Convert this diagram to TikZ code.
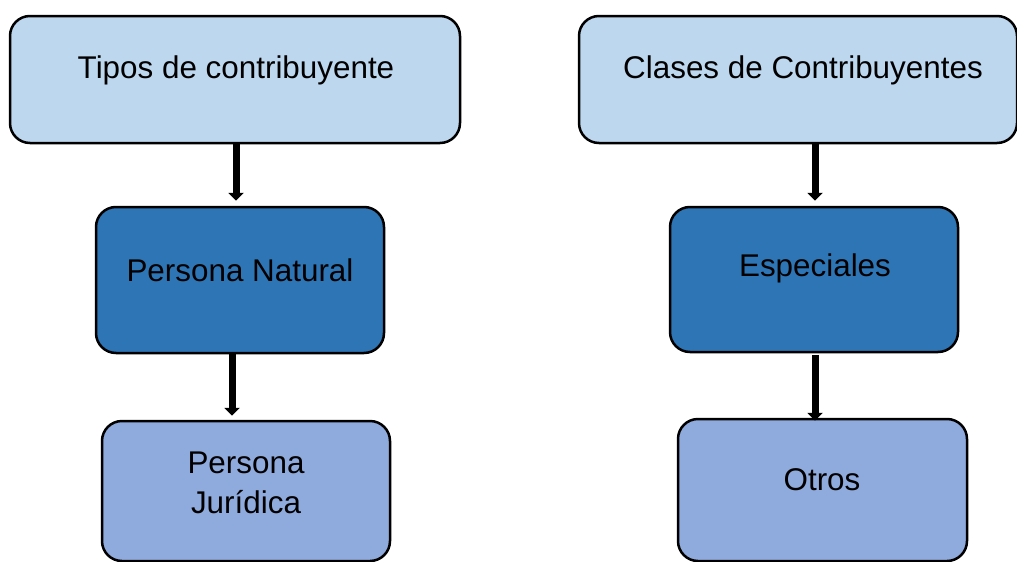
\documentclass[tikz,border=0pt]{standalone}
\usepackage{fontspec}
\setmainfont{Liberation Sans}
\usetikzlibrary{arrows.meta}
\definecolor{lightbox}{HTML}{BDD7EE}
\definecolor{darkbox}{HTML}{2E75B6}
\definecolor{midbox}{HTML}{8FAADC}
\begin{document}
\begin{tikzpicture}[x=1pt,y=-1pt,
  box/.style={draw=black, line width=2.5pt, rounded corners=20pt, inner sep=0pt},
  lbl/.style={font=\fontsize{31.4}{40}\selectfont, align=center, inner sep=0pt, text=black},
  arr/.style={line width=7pt, -{Triangle[width=15pt,length=8pt]}}]
\useasboundingbox (0,0) rectangle (1017,562);
% left column
\node[box, fill=lightbox, minimum width=450pt, minimum height=127pt] (b1) at (235,79.5) {};
\node[box, fill=darkbox, minimum width=288pt, minimum height=146pt] (b2) at (240,280) {};
\node[box, fill=midbox, minimum width=288pt, minimum height=140pt] (b3) at (246,491) {};
% right column
\node[box, fill=lightbox, minimum width=438pt, minimum height=127pt] (b4) at (798,79.5) {};
\node[box, fill=darkbox, minimum width=288pt, minimum height=145pt] (b5) at (814,279.5) {};
\node[box, fill=midbox, minimum width=289pt, minimum height=142pt] (b6) at (822.5,490) {};
% labels
\node[lbl] (t1) at (236,70) {Tipos de contribuyente};
\node[lbl] (t2) at (240,270) {Persona Natural};
\node[lbl] (t3) at (246,483) {Persona\\Jurídica};
\node[lbl] (t4) at (803,70) {Clases de Contribuyentes};
\node[lbl] (t5) at (815,268) {Especiales};
\node[lbl] (t6) at (822,480) {Otros};
% arrows
\draw[arr] ([xshift=1pt]b1.south) -- ([xshift=1pt,yshift=5pt]b1.south |- b2.north);
\draw[arr] ([xshift=-8pt]b2.south) -- ([xshift=-8pt,yshift=4pt]b2.south |- b3.north);
\draw[arr] ([xshift=17pt]b4.south) -- ([xshift=17pt,yshift=5pt]b4.south |- b5.north);
\draw[arr] ([xshift=1pt,yshift=-2pt]b5.south) -- ([xshift=1pt,yshift=-3pt]b5.south |- b6.north);
\end{tikzpicture}
\end{document}
